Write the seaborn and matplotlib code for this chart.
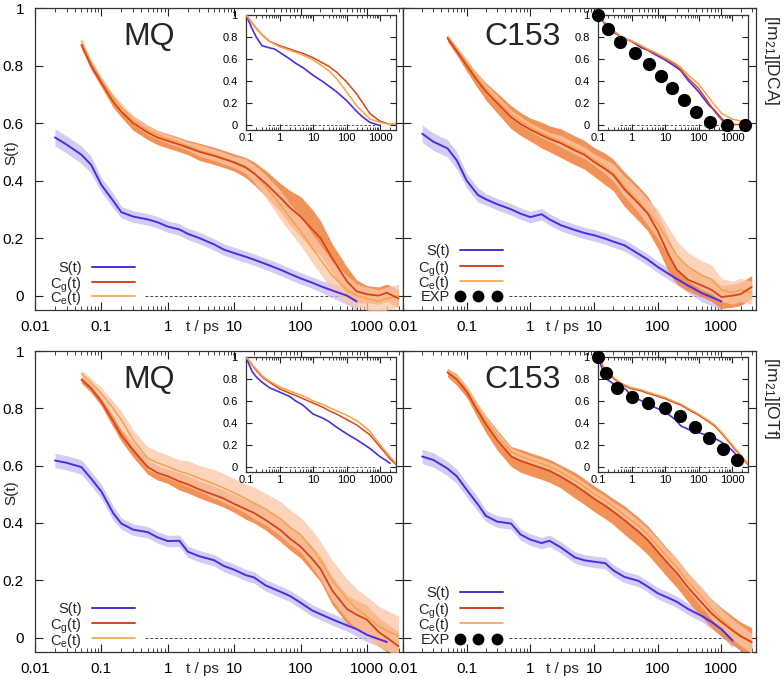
import numpy as np
import pandas as pd
import matplotlib
matplotlib.use("Agg")
import matplotlib.pyplot as plt
import seaborn as sns
from matplotlib.lines import Line2D
from matplotlib.ticker import LogLocator, NullFormatter

sns.set_theme(style="ticks")
plt.rcParams['font.family'] = ['Liberation Sans', 'DejaVu Sans']
plt.rcParams['mathtext.fontset'] = 'custom'
plt.rcParams['mathtext.rm'] = 'Liberation Sans'
plt.rcParams['mathtext.it'] = 'Liberation Sans'
plt.rcParams['mathtext.default'] = 'regular'

nan = np.nan
# ---------------- data ----------------
T_MAIN = [0.02, 0.03, 0.05, 0.07, 0.1, 0.15, 0.2, 0.3, 0.5, 0.7, 1, 1.5, 2, 3, 5, 7, 10, 15, 20, 30,
          50, 70, 100, 150, 200, 300, 500, 700, 1000, 1500, 2000, 3000]

# top-left: [Im21][DCA], MQ
DCA_MQ_S = [0.55, 0.525, 0.49, 0.455, 0.385, 0.33, 0.29, 0.275, 0.265, 0.255, 0.24, 0.23, 0.215, 0.2, 0.178, 0.16,
            0.148, 0.135, 0.125, 0.11, 0.09, 0.075, 0.06, 0.045, 0.033, 0.018, 0.0, -0.02, nan, nan, nan, nan]
DCA_MQ_S_ERR = [0.03, 0.03, 0.03, 0.03, 0.025, 0.025, 0.02, 0.02, 0.02, 0.02, 0.02, 0.02, 0.02, 0.02, 0.02, 0.02,
                0.02, 0.02, 0.02, 0.02, 0.02, 0.02, 0.02, 0.02, 0.02, 0.025, 0.03, 0.03, nan, nan, nan, nan]
DCA_MQ_CG = [nan, nan, 0.872, 0.80, 0.74, 0.675, 0.64, 0.60, 0.567, 0.55, 0.538, 0.525, 0.515, 0.5, 0.486, 0.475,
             0.463, 0.445, 0.425, 0.39, 0.34, 0.305, 0.275, 0.23, 0.2, 0.13, 0.05, 0.015, 0.005, 0.0, 0.01, -0.01]
DCA_MQ_CG_ERR = [nan, nan, 0.012, 0.015, 0.015, 0.02, 0.02, 0.025, 0.025, 0.025, 0.025, 0.025, 0.025, 0.03, 0.03, 0.03,
                 0.03, 0.035, 0.04, 0.045, 0.05, 0.06, 0.07, 0.07, 0.06, 0.05, 0.05, 0.04, 0.03, 0.03, 0.03, 0.03]
DCA_MQ_CE = [nan, nan, 0.885, 0.81, 0.75, 0.69, 0.655, 0.61, 0.575, 0.56, 0.545, 0.532, 0.52, 0.505, 0.49, 0.478,
             0.465, 0.45, 0.425, 0.38, 0.315, 0.27, 0.225, 0.165, 0.125, 0.07, 0.02, 0.0, -0.01, -0.02, -0.01, 0.0]
DCA_MQ_CE_ERR = [nan, nan, 0.01, 0.01, 0.012, 0.012, 0.015, 0.015, 0.015, 0.015, 0.015, 0.015, 0.015, 0.02, 0.02, 0.02,
                 0.02, 0.025, 0.03, 0.04, 0.05, 0.05, 0.05, 0.05, 0.05, 0.05, 0.05, 0.04, 0.04, 0.04, 0.04, 0.04]

# top-right: [Im21][DCA], C153
DCA_C153_S = [0.563, 0.535, 0.512, 0.47, 0.40, 0.35, 0.335, 0.318, 0.30, 0.285, 0.273, 0.283, 0.265, 0.245, 0.228,
              0.218, 0.21, 0.198, 0.188, 0.175, 0.145, 0.125, 0.1, 0.075, 0.058, 0.035, 0.008, -0.005, -0.02, nan, nan, nan]
DCA_C153_S_ERR = [0.03, 0.03, 0.03, 0.03, 0.025, 0.025, 0.02, 0.02, 0.02, 0.02, 0.02, 0.02, 0.02, 0.02, 0.02, 0.02,
                  0.02, 0.02, 0.02, 0.02, 0.02, 0.02, 0.02, 0.02, 0.02, 0.025, 0.03, 0.03, 0.03, nan, nan, nan]
DCA_C153_CG = [nan, nan, 0.895, 0.85, 0.80, 0.745, 0.71, 0.67, 0.62, 0.597, 0.577, 0.558, 0.545, 0.53, 0.505, 0.49,
               0.465, 0.44, 0.42, 0.37, 0.32, 0.285, 0.225, 0.14, 0.09, 0.055, 0.035, 0.02, -0.005, 0.0, 0.005, 0.03]
DCA_C153_CG_ERR = [nan, nan, 0.012, 0.015, 0.02, 0.025, 0.03, 0.035, 0.04, 0.04, 0.04, 0.045, 0.045, 0.05, 0.05, 0.05,
                   0.05, 0.055, 0.055, 0.06, 0.06, 0.06, 0.06, 0.06, 0.05, 0.04, 0.04, 0.04, 0.04, 0.04, 0.04, 0.04]
DCA_C153_CE = [nan, nan, 0.9, 0.855, 0.81, 0.755, 0.72, 0.68, 0.63, 0.607, 0.585, 0.565, 0.552, 0.537, 0.512, 0.497,
               0.473, 0.448, 0.428, 0.38, 0.33, 0.29, 0.25, 0.185, 0.14, 0.1, 0.07, 0.057, 0.02, 0.01, 0.02, 0.01]
DCA_C153_CE_ERR = [nan, nan, 0.01, 0.01, 0.012, 0.012, 0.015, 0.015, 0.015, 0.015, 0.015, 0.015, 0.015, 0.02, 0.02, 0.02,
                   0.02, 0.025, 0.03, 0.035, 0.04, 0.045, 0.05, 0.05, 0.05, 0.05, 0.05, 0.05, 0.04, 0.04, 0.04, 0.04]

# bottom-left: [Im21][OTf], MQ
OTF_MQ_S = [0.618, 0.61, 0.595, 0.555, 0.51, 0.435, 0.398, 0.377, 0.368, 0.35, 0.337, 0.338, 0.3, 0.284, 0.27, 0.25,
            0.237, 0.218, 0.21, 0.182, 0.16, 0.145, 0.122, 0.095, 0.082, 0.064, 0.043, 0.03, 0.01, -0.005, -0.015, nan]
OTF_MQ_S_ERR = [0.025, 0.025, 0.025, 0.025, 0.025, 0.025, 0.02, 0.02, 0.02, 0.02, 0.02, 0.02, 0.02, 0.02, 0.02, 0.02,
                0.02, 0.02, 0.02, 0.02, 0.02, 0.02, 0.02, 0.02, 0.02, 0.02, 0.02, 0.025, 0.025, 0.025, 0.025, nan]
OTF_MQ_CG = [nan, nan, 0.9, 0.87, 0.823, 0.755, 0.705, 0.655, 0.595, 0.575, 0.563, 0.545, 0.535, 0.517, 0.498, 0.485,
             0.467, 0.448, 0.435, 0.41, 0.375, 0.345, 0.318, 0.275, 0.24, 0.165, 0.1, 0.08, 0.063, 0.02, 0.0, -0.03]
OTF_MQ_CG_ERR = [nan, nan, 0.012, 0.015, 0.015, 0.02, 0.02, 0.025, 0.025, 0.025, 0.025, 0.03, 0.03, 0.03, 0.03, 0.03,
                 0.03, 0.035, 0.035, 0.035, 0.04, 0.04, 0.04, 0.045, 0.045, 0.05, 0.05, 0.05, 0.05, 0.05, 0.05, 0.05]
OTF_MQ_CE = [nan, nan, 0.922, 0.89, 0.852, 0.8, 0.76, 0.69, 0.626, 0.61, 0.597, 0.58, 0.572, 0.556, 0.536, 0.522,
             0.505, 0.485, 0.47, 0.448, 0.415, 0.385, 0.36, 0.31, 0.27, 0.2, 0.135, 0.1, 0.074, 0.04, 0.025, 0.005]
OTF_MQ_CE_ERR = [nan, nan, 0.012, 0.015, 0.02, 0.025, 0.03, 0.035, 0.04, 0.04, 0.04, 0.04, 0.045, 0.045, 0.05, 0.05,
                 0.05, 0.05, 0.055, 0.055, 0.06, 0.06, 0.06, 0.065, 0.065, 0.07, 0.07, 0.07, 0.07, 0.07, 0.07, 0.07]

# bottom-right: [Im21][OTf], C153
OTF_C153_S = [0.632, 0.62, 0.59, 0.563, 0.516, 0.465, 0.425, 0.405, 0.398, 0.36, 0.342, 0.33, 0.338, 0.315, 0.28,
              0.27, 0.265, 0.26, 0.235, 0.212, 0.198, 0.178, 0.155, 0.138, 0.125, 0.1, 0.075, 0.055, 0.03, -0.01, nan, nan]
OTF_C153_S_ERR = [0.025, 0.025, 0.025, 0.025, 0.025, 0.025, 0.02, 0.02, 0.02, 0.02, 0.02, 0.02, 0.02, 0.02, 0.02, 0.02,
                  0.02, 0.02, 0.02, 0.02, 0.02, 0.02, 0.02, 0.02, 0.02, 0.02, 0.02, 0.025, 0.025, 0.025, nan, nan]
OTF_C153_CG = [nan, nan, 0.925, 0.9, 0.858, 0.79, 0.745, 0.69, 0.632, 0.617, 0.605, 0.592, 0.582, 0.562, 0.532, 0.51,
               0.485, 0.46, 0.44, 0.41, 0.37, 0.34, 0.3, 0.255, 0.225, 0.175, 0.12, 0.085, 0.055, 0.025, 0.005, -0.015]
OTF_C153_CG_ERR = [nan, nan, 0.015, 0.02, 0.02, 0.025, 0.03, 0.035, 0.035, 0.04, 0.04, 0.04, 0.04, 0.04, 0.045, 0.045,
                   0.045, 0.045, 0.045, 0.05, 0.05, 0.05, 0.05, 0.05, 0.05, 0.05, 0.05, 0.05, 0.05, 0.05, 0.05, 0.05]
OTF_C153_CE = [nan, nan, 0.93, 0.905, 0.865, 0.8, 0.757, 0.705, 0.648, 0.633, 0.62, 0.607, 0.597, 0.578, 0.548, 0.527,
               0.502, 0.478, 0.458, 0.428, 0.39, 0.36, 0.32, 0.275, 0.245, 0.195, 0.14, 0.1, 0.065, 0.03, 0.008, -0.02]
OTF_C153_CE_ERR = [nan, nan, 0.01, 0.012, 0.012, 0.015, 0.015, 0.015, 0.015, 0.015, 0.015, 0.015, 0.015, 0.015, 0.015,
                   0.015, 0.015, 0.015, 0.015, 0.02, 0.02, 0.02, 0.025, 0.025, 0.03, 0.03, 0.035, 0.035, 0.035, 0.035,
                   0.035, 0.035]

# insets (normalised)
T_INS = [0.1, 0.15, 0.2, 0.3, 0.5, 0.7, 1, 2, 3, 5, 10, 20, 30, 50, 100, 200, 300, 500, 1000, 2000, 3000]
INS_DCA_MQ_S = [1.0, 0.88, 0.8, 0.72, 0.7, 0.69, 0.66, 0.6, 0.56, 0.52, 0.45, 0.39, 0.35, 0.3, 0.22, 0.12, 0.07, 0.02, -0.01, nan, nan]
INS_DCA_MQ_CG = [1.0, 0.93, 0.88, 0.82, 0.76, 0.74, 0.72, 0.69, 0.67, 0.65, 0.61, 0.56, 0.53, 0.48, 0.39, 0.28, 0.2, 0.1, 0.03, 0.0, 0.01]
INS_DCA_MQ_CE = [1.0, 0.93, 0.88, 0.82, 0.76, 0.735, 0.71, 0.68, 0.66, 0.635, 0.59, 0.53, 0.49, 0.42, 0.3, 0.17, 0.12, 0.05, 0.02, 0.0, 0.01]

INS_DCA_C153_S = [1.0, 0.93, 0.88, 0.84, 0.8, 0.78, 0.76, 0.7, 0.68, 0.64, 0.59, 0.53, 0.49, 0.4, 0.3, 0.18, 0.13, 0.05, -0.02, nan, nan]
INS_DCA_C153_CG = [1.0, 0.94, 0.9, 0.85, 0.8, 0.78, 0.76, 0.71, 0.68, 0.65, 0.6, 0.55, 0.5, 0.42, 0.33, 0.2, 0.12, 0.04, 0.0, 0.0, 0.04]
INS_DCA_C153_CE = [1.0, 0.94, 0.9, 0.85, 0.8, 0.78, 0.765, 0.72, 0.69, 0.66, 0.61, 0.56, 0.52, 0.45, 0.37, 0.25, 0.18, 0.1, 0.05, 0.03, 0.02]
EXP_DCA_T = [0.1, 0.2, 0.46, 1.3, 3.4, 7.8, 16, 36, 86, 220, 720, 2450]
EXP_DCA_V = [1.0, 0.87, 0.75, 0.65, 0.55, 0.44, 0.33, 0.22, 0.115, 0.025, 0.0, 0.0]

INS_OTF_MQ_S = [1.0, 0.87, 0.82, 0.77, 0.72, 0.7, 0.68, 0.64, 0.6, 0.56, 0.48, 0.44, 0.41, 0.36, 0.3, 0.245, 0.21, 0.165, 0.09, 0.03, nan]
INS_OTF_MQ_CG = [1.0, 0.93, 0.88, 0.82, 0.77, 0.74, 0.71, 0.67, 0.65, 0.62, 0.58, 0.54, 0.51, 0.48, 0.43, 0.38, 0.34, 0.29, 0.18, 0.07, 0.02]
INS_OTF_MQ_CE = [1.0, 0.935, 0.89, 0.83, 0.78, 0.755, 0.73, 0.69, 0.67, 0.645, 0.6, 0.565, 0.54, 0.51, 0.47, 0.42, 0.38, 0.32, 0.2, 0.09, 0.03]

INS_OTF_C153_S = [1.0, 0.85, 0.79, 0.75, 0.73, 0.7, 0.64, 0.6, 0.58, 0.54, 0.5, 0.43, 0.37, 0.34, 0.31, 0.28, 0.26, 0.22, 0.15, 0.04, nan]
INS_OTF_C153_CG = [1.0, 0.9, 0.85, 0.8, 0.75, 0.73, 0.71, 0.69, 0.67, 0.65, 0.62, 0.58, 0.56, 0.52, 0.47, 0.41, 0.37, 0.3, 0.19, 0.08, 0.02]
INS_OTF_C153_CE = [1.0, 0.91, 0.86, 0.81, 0.76, 0.74, 0.72, 0.7, 0.68, 0.66, 0.63, 0.59, 0.57, 0.53, 0.48, 0.42, 0.38, 0.31, 0.2, 0.09, 0.03]
EXP_OTF_T = [0.1, 0.17, 0.37, 1.0, 3.1, 10, 29, 79, 205, 545, 1440]
EXP_OTF_V = [1.0, 0.85, 0.72, 0.635, 0.58, 0.535, 0.457, 0.36, 0.265, 0.16, 0.06]

MAIN_XTICKS = [0.01, 0.1, 1, 10, 100, 1000]
MAIN_XTICKLABELS = ["0.01", "0.1", "1", "10", "100", "1000"]
MAIN_YTICKS = [0, 0.2, 0.4, 0.6, 0.8, 1]
MAIN_YTICKLABELS = ["0", "0.2", "0.4", "0.6", "0.8", "1"]
INS_XTICKS = [0.1, 1, 10, 100, 1000]
INS_XTICKLABELS = ["0.1", "1", "10", "100", "1000"]

LABEL_S = "S(t)"
LABEL_CG = r"C$_{g}$(t)"
LABEL_CE = r"C$_{e}$(t)"
LABEL_EXP = "EXP"

# ---------------- style ----------------
C_S = "#4a2ee0"
C_S_FILL = "#c4bbf3"
C_CG = "#d8441a"
C_CG_FILL = "#f08a4a"
C_CE = "#f5a24c"
C_CE_FILL = "#fcc6a6"

W, H = 784, 679
fig = plt.figure(figsize=(W / 100, H / 100), dpi=100)


def px_axes(left, top, width, height):
    return fig.add_axes([left / W, 1 - (top + height) / H, width / W, height / H])


def style_axes(ax, xlim, ylim, xticks, xlabels, yticks, ylabels, fs, major_len, minor_len, xpad, ypad):
    ax.set_xscale("log")
    ax.set_xlim(*xlim)
    ax.set_ylim(*ylim)
    ax.set_xticks(xticks)
    ax.set_xticklabels(xlabels if xlabels is not None else [""] * len(xticks))
    ax.xaxis.set_minor_locator(LogLocator(base=10, subs=np.arange(2, 10), numticks=50))
    ax.xaxis.set_minor_formatter(NullFormatter())
    ax.set_yticks(yticks)
    ax.set_yticklabels(ylabels if ylabels is not None else [""] * len(yticks))
    ax.tick_params(which="both", direction="in", top=True, right=True, labelsize=fs,
                   colors="#222222", labelcolor="black")
    ax.tick_params(axis="x", pad=xpad)
    ax.tick_params(axis="y", pad=ypad)
    ax.tick_params(which="major", length=major_len, width=0.8)
    ax.tick_params(which="minor", length=minor_len, width=0.6)
    for sp in ax.spines.values():
        sp.set_linewidth(0.9)
        sp.set_color("#333333")
    ax.set_xlabel("")
    ax.set_ylabel("")


def draw_band(ax, t, y, err, fill_color, fill_alpha, z):
    df = pd.DataFrame({"t": t, "y": y, "e": err}).dropna()
    ax.fill_between(df["t"], df["y"] - df["e"], df["y"] + df["e"], color=fill_color,
                    alpha=fill_alpha, lw=0, zorder=z)
    return df


def key_legend(ax, rows_px, ax_left, ax_bottom, ax_w, ax_h, text_right, line_x0, line_x1):
    """Gnuplot-style key: right-aligned text followed by the line sample."""
    tr = ax.transAxes
    fx = lambda px: (px - ax_left) / ax_w
    for (label, color, lw, is_exp), ypx in rows_px:
        fy = (ax_bottom - ypx) / ax_h
        ax.text(fx(text_right), fy, label, transform=tr, ha="right", va="center_baseline",
                fontsize=10.5, zorder=10)
        if is_exp:
            xs = np.linspace(fx(line_x0), fx(line_x0) + (fx(line_x1) - fx(line_x0)) * 0.85, 3)
            ax.add_line(Line2D(xs, [fy] * 3, transform=tr, ls="none", marker="o", color="black",
                               markersize=7.5, zorder=10))
        else:
            ax.add_line(Line2D([fx(line_x0), fx(line_x1)], [fy, fy], transform=tr, color=color,
                               lw=lw, zorder=10))


def main_panel(ax, S, Se, Cg, Cge, Ce, Cee, name, with_exp, ylabels, geom, key_rows):
    t = T_MAIN
    dS = draw_band(ax, t, S, Se, C_S_FILL, 0.75, 1)
    dG = draw_band(ax, t, Cg, Cge, C_CG_FILL, 0.92, 2)
    dE = draw_band(ax, t, Ce, Cee, C_CE_FILL, 0.75, 3)
    sns.lineplot(data=dE, x="t", y="y", ax=ax, color=C_CE, lw=1.1, zorder=4, legend=False)
    sns.lineplot(data=dG, x="t", y="y", ax=ax, color=C_CG, lw=1.3, zorder=5, legend=False)
    sns.lineplot(data=dS, x="t", y="y", ax=ax, color=C_S, lw=1.4, zorder=6, legend=False)
    ax.axhline(0, xmin=0.30, xmax=0.92, color="#444444", lw=0.7, ls=(0, (3, 2)), zorder=0.5)
    style_axes(ax, (0.01, 3500), (-0.05, 1.0), MAIN_XTICKS, MAIN_XTICKLABELS,
               MAIN_YTICKS, ylabels, 11, 6, 3, 7, 8)
    ax.text(0.31 if name == "MQ" else 0.34, 0.905, name, transform=ax.transAxes, ha="center",
            va="center", fontsize=23)
    ax.annotate("t / ps", xy=(10, 0), xycoords=("data", "axes fraction"), xytext=(-11, -7.5),
                textcoords="offset points", ha="right", va="top", fontsize=11)
    left, bottom, w, h = geom
    entries = [(LABEL_S, C_S, 1.4, False), (LABEL_CG, C_CG, 1.4, False), (LABEL_CE, C_CE, 1.2, False)]
    if with_exp:
        entries.append((LABEL_EXP, "black", 0, True))
    key_legend(ax, list(zip(entries, key_rows)), left, bottom, w, h, left + 47, left + 57, left + 100)


def inset_panel(ax, S, Cg, Ce, exp_t, exp_v):
    df = pd.DataFrame({"t": T_INS, "S": S, "Cg": Cg, "Ce": Ce})
    sns.lineplot(data=df.dropna(subset=["S"]), x="t", y="S", ax=ax, color=C_S, lw=1.2, zorder=3, legend=False)
    sns.lineplot(data=df.dropna(subset=["Cg"]), x="t", y="Cg", ax=ax, color=C_CG, lw=1.1, zorder=4, legend=False)
    sns.lineplot(data=df.dropna(subset=["Ce"]), x="t", y="Ce", ax=ax, color=C_CE, lw=1.1, zorder=5, legend=False)
    if exp_t is not None:
        ax.plot(exp_t, exp_v, ls="none", marker="o", color="black", markersize=8.5, zorder=6, clip_on=False)
    ax.axhline(0, xmin=0.147, xmax=0.87, color="#444444", lw=0.6, ls=(0, (3, 2)), zorder=1)
    style_axes(ax, (0.1, 3000), (-0.05, 1.0), INS_XTICKS, INS_XTICKLABELS,
               MAIN_YTICKS, MAIN_YTICKLABELS, 8, 4, 2, 2.5, 6)


G_TL = (35, 310, 368, 302)
G_TR = (403, 310, 353, 302)
G_BL = (35, 652, 368, 301)
G_BR = (403, 652, 353, 301)
ax_tl = px_axes(35, 8, 368, 302)
ax_tr = px_axes(403, 8, 353, 302)
ax_bl = px_axes(35, 351, 368, 301)
ax_br = px_axes(403, 351, 353, 301)

main_panel(ax_tl, DCA_MQ_S, DCA_MQ_S_ERR, DCA_MQ_CG, DCA_MQ_CG_ERR, DCA_MQ_CE, DCA_MQ_CE_ERR, "MQ", False,
           MAIN_YTICKLABELS, G_TL, [267, 282, 296])
main_panel(ax_tr, DCA_C153_S, DCA_C153_S_ERR, DCA_C153_CG, DCA_C153_CG_ERR, DCA_C153_CE, DCA_C153_CE_ERR, "C153", True,
           None, G_TR, [250, 266, 281, 296])
main_panel(ax_bl, OTF_MQ_S, OTF_MQ_S_ERR, OTF_MQ_CG, OTF_MQ_CG_ERR, OTF_MQ_CE, OTF_MQ_CE_ERR, "MQ", False,
           MAIN_YTICKLABELS, G_BL, [608, 623, 638])
main_panel(ax_br, OTF_C153_S, OTF_C153_S_ERR, OTF_C153_CG, OTF_C153_CG_ERR, OTF_C153_CE, OTF_C153_CE_ERR, "C153", True,
           None, G_BR, [592, 608, 623, 639])

fig.text(11 / W, 1 - 153 / H, "S(t)", rotation=90, ha="center", va="center", fontsize=11)
fig.text(11 / W, 1 - 493 / H, "S(t)", rotation=90, ha="center", va="center", fontsize=11)

in_tl = px_axes(246, 15, 150, 115)
in_tr = px_axes(598, 15, 150, 115)
in_bl = px_axes(246, 357, 150, 115)
in_br = px_axes(598, 357, 150, 115)
inset_panel(in_tl, INS_DCA_MQ_S, INS_DCA_MQ_CG, INS_DCA_MQ_CE, None, None)
inset_panel(in_tr, INS_DCA_C153_S, INS_DCA_C153_CG, INS_DCA_C153_CE, EXP_DCA_T, EXP_DCA_V)
inset_panel(in_bl, INS_OTF_MQ_S, INS_OTF_MQ_CG, INS_OTF_MQ_CE, None, None)
inset_panel(in_br, INS_OTF_C153_S, INS_OTF_C153_CG, INS_OTF_C153_CE, EXP_OTF_T, EXP_OTF_V)

fig.text(771 / W, 1 - 60 / H, r"[Im$_{21}$][DCA]", rotation=-90, ha="center", va="center", fontsize=12.5)
fig.text(771 / W, 1 - 398 / H, r"[Im$_{21}$][OTf]", rotation=-90, ha="center", va="center", fontsize=12.5)

fig.savefig("out.png", dpi=100)
